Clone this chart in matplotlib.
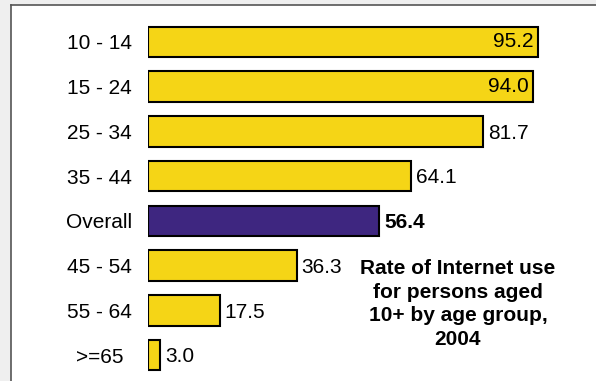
import matplotlib.pyplot as plt
from matplotlib.patches import Rectangle
from matplotlib.lines import Line2D

# Datos
categorias = ["10 - 14", "15 - 24", "25 - 34", "35 - 44", "Overall", "45 - 54", "55 - 64", ">=65"]
valores = [95.2, 94.0, 81.7, 64.1, 56.4, 36.3, 17.5, 3.0]
titulo = "Rate of Internet use\nfor persons aged\n10+ by age group,\n2004"

amarillo = "#F5D516"
morado = "#3E2680"

plt.rcParams['font.family'] = ['Liberation Sans', 'DejaVu Sans']

W, H = 596, 381
fig = plt.figure(figsize=(W / 100, H / 100), dpi=100)
fig.patch.set_facecolor("#efefef")

# panel blanco con borde oscuro arriba e izquierda
x0, y0 = 11 / W, 1 - 5 / H
fig.patches.append(Rectangle((x0, 0), 1 - x0, y0, transform=fig.transFigure,
                             facecolor="white", edgecolor="none", zorder=-10))
fig.lines.append(Line2D([x0, 1], [y0, y0], transform=fig.transFigure, color="#555555", lw=1.2, zorder=-5))
fig.lines.append(Line2D([x0, x0], [0, y0], transform=fig.transFigure, color="#555555", lw=1.2, zorder=-5))

# ejes: escala ~4.097 px por unidad, barras desde x=148
escala = 4.097
left = 148 / W
right_px = 590
ax = fig.add_axes([left, 1 - 377.4 / H, (right_px - 148) / W, (377.4 - 19.6) / H])
ax.set_facecolor("none")

y = list(range(len(categorias)))
colores = [morado if c == "Overall" else amarillo for c in categorias]
ax.barh(y, valores, height=0.68, color=colores, edgecolor="black", linewidth=1.5)

ax.set_xlim(0, (right_px - 148) / escala)
ax.set_ylim(len(categorias) - 0.5, -0.5)
ax.set_xticks([])
ax.set_yticks(y)
ax.set_yticklabels(categorias, fontsize=15, ha="center")
ax.tick_params(axis="y", length=0, pad=35)
for s in ax.spines.values():
    s.set_visible(False)

# etiquetas de valor
for yi, v, c in zip(y, valores, categorias):
    peso = "bold" if c == "Overall" else "normal"
    if v > 90:
        ax.text(v - 1.0, yi, f"{v:.1f}", ha="right", va="center", fontsize=15)
    else:
        ax.text(v + 1.2, yi + 0.04, f"{v:.1f}", ha="left", va="center", fontsize=15, fontweight=peso)

fig.text(458 / W, 1 - 304 / H, titulo, ha="center", va="center", fontsize=15,
         fontweight="bold", linespacing=1.31)

fig.savefig("out.png", dpi=100)
